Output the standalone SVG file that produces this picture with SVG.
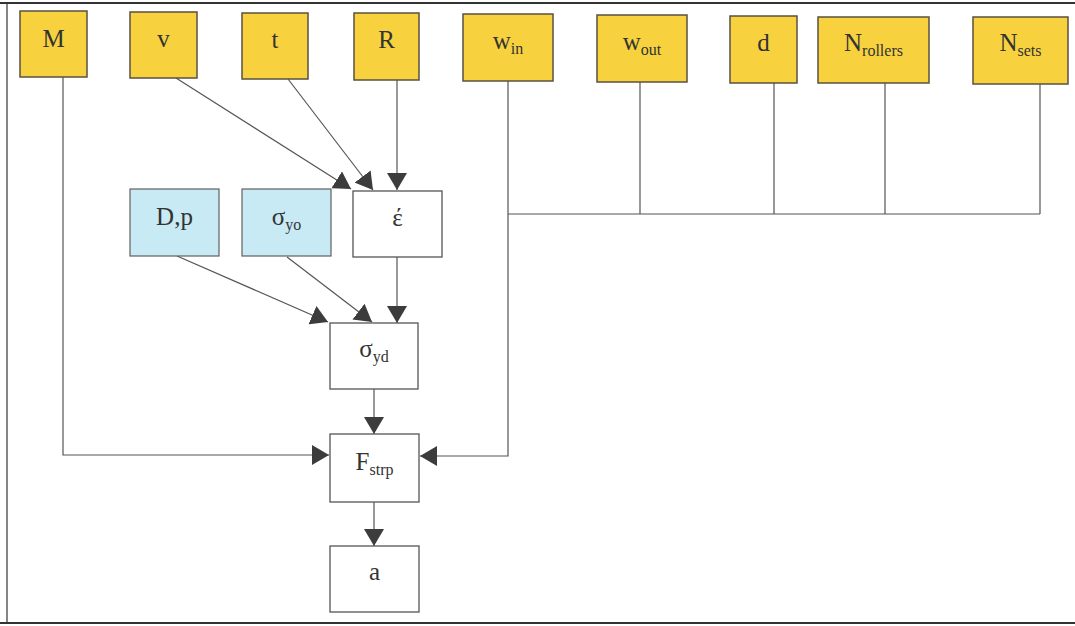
<svg xmlns="http://www.w3.org/2000/svg" width="1075" height="626" viewBox="0 0 1075 626">
<style>
.in{fill:#F7D23E;stroke:#5a5040;stroke-width:1.5}
.pa{fill:#C8EAF4;stroke:#606060;stroke-width:1.2}
.ca{fill:#ffffff;stroke:#555;stroke-width:1.3}
.lb{font-family:"Liberation Serif","Times New Roman",serif;font-size:25px;fill:#333;text-anchor:middle}
.sb{font-size:16px}
.cn{fill:none;stroke:#555;stroke-width:1.2}
.fr{stroke:#333;fill:none}
</style>
<defs>
<marker id="ah" markerUnits="userSpaceOnUse" markerWidth="18" markerHeight="20" refX="17" refY="10" orient="auto" viewBox="0 0 18 20">
<path d="M0,0 L17,10 L0,20 z" fill="#3c3c3c"/>
</marker>
</defs>
<rect width="1075" height="626" fill="#ffffff"/>
<g id="frame">
<line class="fr" x1="0" y1="3" x2="1075" y2="3" stroke-width="2"/>
<line class="fr" x1="7" y1="3" x2="7" y2="623" stroke="#888" stroke-width="1.2"/>
<line class="fr" x1="0" y1="623" x2="1075" y2="623" stroke-width="2.2"/>
</g>
<g id="connectors">
<path class="cn" d="M63,77 V455 H329" marker-end="url(#ah)"/>
<path class="cn" d="M176,78 L351,189" marker-end="url(#ah)"/>
<path class="cn" d="M288,79 L373,190" marker-end="url(#ah)"/>
<path class="cn" d="M397,80 V190" marker-end="url(#ah)"/>
<path class="cn" d="M508,81 V456 H420" marker-end="url(#ah)"/>
<path class="cn" d="M640,82 V214 M774,83 V214 M885,83 V214 M1040,84 V214 M508,214 H1040"/>
<path class="cn" d="M177,256 L328,322" marker-end="url(#ah)"/>
<path class="cn" d="M287,257 L372,322" marker-end="url(#ah)"/>
<path class="cn" d="M397,257 V323" marker-end="url(#ah)"/>
<path class="cn" d="M374,389 V434" marker-end="url(#ah)"/>
<path class="cn" d="M374,502 V546" marker-end="url(#ah)"/>
</g>
<g id="n-M"><rect class="in" x="20" y="11" width="67" height="66"/><text class="lb" x="53.5" y="47">M</text></g>
<g id="n-v"><rect class="in" x="130" y="12" width="67" height="66"/><text class="lb" x="163.5" y="47">v</text></g>
<g id="n-t"><rect class="in" x="242" y="13" width="66" height="66"/><text class="lb" x="275" y="48">t</text></g>
<g id="n-R"><rect class="in" x="354" y="13" width="65" height="67"/><text class="lb" x="386.5" y="48">R</text></g>
<g id="n-win"><rect class="in" x="463" y="14" width="90" height="67"/><text class="lb" x="508" y="49">w<tspan class="sb" dy="5">in</tspan></text></g>
<g id="n-wout"><rect class="in" x="597" y="15" width="90" height="67"/><text class="lb" x="642" y="50">w<tspan class="sb" dy="5">out</tspan></text></g>
<g id="n-d"><rect class="in" x="730" y="16" width="67" height="67"/><text class="lb" x="763.5" y="51">d</text></g>
<g id="n-Nrollers"><rect class="in" x="818" y="17" width="111" height="66"/><text class="lb" x="873.5" y="51">N<tspan class="sb" dy="5">rollers</tspan></text></g>
<g id="n-Nsets"><rect class="in" x="973" y="17" width="95" height="67"/><text class="lb" x="1020.5" y="51">N<tspan class="sb" dy="5">sets</tspan></text></g>
<g id="n-Dp"><rect class="pa" x="130" y="189" width="89" height="67"/><text class="lb" x="174.5" y="225">D,p</text></g>
<g id="n-syo"><rect class="pa" x="242" y="189" width="89" height="67"/><text class="lb" x="286.5" y="225">σ<tspan class="sb" dy="5">yo</tspan></text></g>
<g id="n-eps"><rect class="ca" x="353" y="191" width="89" height="66"/><text class="lb" x="397.5" y="226">έ</text></g>
<g id="n-syd"><rect class="ca" x="330" y="323" width="88" height="66"/><text class="lb" x="374" y="357">σ<tspan class="sb" dy="5">yd</tspan></text></g>
<g id="n-Fstrp"><rect class="ca" x="330" y="434" width="89" height="68"/><text class="lb" x="374.5" y="470">F<tspan class="sb" dy="5">strp</tspan></text></g>
<g id="n-a"><rect class="ca" x="330" y="546" width="89" height="66"/><text class="lb" x="374.5" y="580">a</text></g>
</svg>
